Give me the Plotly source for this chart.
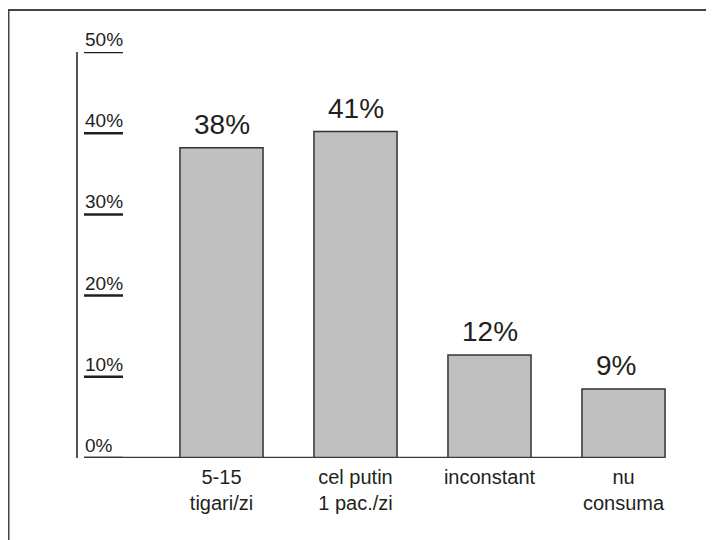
import plotly.graph_objects as go

categories = ["5-15<br>tigari/zi", "cel putin<br>1 pac./zi", "inconstant", "nu<br>consuma"]
bar_heights = [38.2, 40.2, 12.7, 8.5]
bar_labels = ["38%", "41%", "12%", "9%"]
y_ticks = [0, 10, 20, 30, 40, 50]
y_tick_labels = ["0%", "10%", "20%", "30%", "40%", "50%"]

OFF = 8  # page body margin of the html page
W, H = 714, 540
ML = 78 - OFF
MT = 52 - OFF
MB = H - (458 - OFF)
MR = 14
PW = W - ML - MR
PH = H - MT - MB
X0_CENTER = 221.5 - OFF
X_STEP = 134.0

def px_to_paper_x(px):
    return (px - OFF - ML) / PW

def px_to_paper_y(py):
    return (H - MB - (py - OFF)) / PH

FONT = "Liberation Sans, Arial, sans-serif"
TXT = "#231f20"

xs = list(range(len(categories)))

fig = go.Figure()
fig.add_trace(go.Bar(
    x=xs, y=bar_heights, width=0.62,
    marker=dict(color="#c0c0c0", line=dict(color="#333333", width=1.5)),
    hoverinfo="skip",
))

annotations = []
for i, (h, lab) in enumerate(zip(bar_heights, bar_labels)):
    annotations.append(dict(
        x=i, y=h, xref="x", yref="y", text=lab, showarrow=False,
        yanchor="bottom", xanchor="center", yshift=6,
        xshift=-8 if i == 3 else 0,
        font=dict(family=FONT, size=28, color=TXT),
    ))

shapes = []
x_tick0 = px_to_paper_x(84)
x_tick1 = px_to_paper_x(123)
for v, t in zip(y_ticks, y_tick_labels):
    annotations.append(dict(
        x=x_tick0, y=v, xref="paper", yref="y", text=t, showarrow=False,
        xanchor="left", yanchor="bottom", yshift=0, xshift=-1,
        font=dict(family=FONT, size=19, color=TXT),
    ))
    shapes.append(dict(type="line", xref="paper", yref="y",
                       x0=x_tick0, x1=x_tick1, y0=v, y1=v,
                       line=dict(color="#231f20", width=2.5)))

# baseline
shapes.append(dict(type="line", xref="paper", yref="y",
                   x0=x_tick0, x1=px_to_paper_x(665), y0=0, y1=0,
                   line=dict(color="#3a3a3a", width=2.5)))
# outer frame
shapes.append(dict(type="rect", xref="paper", yref="paper",
                   x0=(0.5 - ML) / PW, x1=2, y0=-1, y1=px_to_paper_y(10),
                   line=dict(color="#444444", width=2), layer="below"))

fig.update_layout(
    width=W, height=H,
    margin=dict(l=ML, r=MR, t=MT, b=MB, pad=0),
    paper_bgcolor="white", plot_bgcolor="white",
    showlegend=False,
    annotations=annotations,
    shapes=shapes,
    xaxis=dict(
        range=[(ML - X0_CENTER) / X_STEP, (W - MR - X0_CENTER) / X_STEP],
        tickvals=xs, ticktext=categories,
        showline=False, showgrid=False, zeroline=False,
        ticks="", ticklabelstandoff=5,
        tickfont=dict(family=FONT, size=20, color=TXT),
        fixedrange=True,
    ),
    yaxis=dict(
        range=[0, 50],
        showline=True, linecolor="#555555", linewidth=1.5,
        showgrid=False, zeroline=False, showticklabels=False, ticks="",
        fixedrange=True,
    ),
)

fig.write_html("out.html")
